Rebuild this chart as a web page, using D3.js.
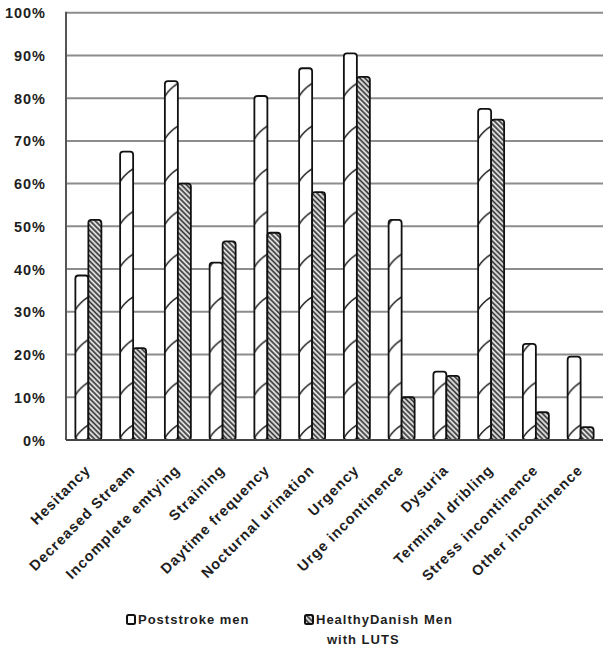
<!DOCTYPE html>
<html>
<head>
<meta charset="utf-8">
<script src="https://cdn.jsdelivr.net/npm/d3@7"></script>
<style>
  html, body { margin: 0; padding: 0; background: #fff; }
  svg text { font-family: "Liberation Sans", Arial, sans-serif; font-weight: bold; fill: #1e1e1e; letter-spacing: 1px; }
</style>
</head>
<body>
<svg id="chart" width="608" height="649"></svg>
<script>
const categories = ["Hesitancy", "Decreased Stream", "Incomplete emtying", "Straining",
  "Daytime frequency", "Nocturnal urination", "Urgency", "Urge incontinence",
  "Dysuria", "Terminal dribling", "Stress incontinence", "Other incontinence"];
const poststrokeMen = [0.385, 0.675, 0.84, 0.415, 0.805, 0.87, 0.905, 0.515, 0.16, 0.775, 0.225, 0.195];
const healthyDanishMen = [0.515, 0.215, 0.60, 0.465, 0.485, 0.58, 0.85, 0.10, 0.15, 0.75, 0.065, 0.03];
const seriesNames = ["Poststroke men", "HealthyDanish Men", "with LUTS"];
const yTicks = [0, 0.1, 0.2, 0.3, 0.4, 0.5, 0.6, 0.7, 0.8, 0.9, 1.0];

(function () {
const svg = d3.select("#chart");
const mLeft = 66, mRight = 603, mTop = 12.7, mBottom = 440;

const x = d3.scaleBand().domain(categories).range([mLeft, mRight]).paddingInner(0).paddingOuter(0);
const y = d3.scaleLinear().domain([0, 1]).range([mBottom, mTop]);
const barW = 13;

const defs = svg.append("defs");
const hp = defs.append("pattern").attr("id", "hatch").attr("patternUnits", "userSpaceOnUse")
  .attr("width", 3.6).attr("height", 3.6).attr("patternTransform", "rotate(-45)");
hp.append("rect").attr("width", 3.6).attr("height", 3.6).attr("fill", "#f2f2f2");
hp.append("line").attr("x1", 1.2).attr("y1", 0).attr("x2", 1.2).attr("y2", 3.6)
  .attr("stroke", "#333").attr("stroke-width", 1.8);

const step = x.bandwidth();
const wp = defs.append("pattern").attr("id", "sparse").attr("patternUnits", "userSpaceOnUse")
  .attr("x", x(categories[0]) + step / 2 - barW).attr("y", mBottom)
  .attr("width", step).attr("height", 42.7);
wp.append("rect").attr("width", step).attr("height", 42.7).attr("fill", "#fff");
wp.append("path").attr("d", `M0,${42.7 - 2} Q${barW * 0.3},${42.7 - 9} ${barW},${42.7 - 15}`)
  .attr("fill", "none").attr("stroke", "#1a1a1a").attr("stroke-width", 1.5);

svg.append("g").selectAll("line").data(yTicks.filter(d => d > 0)).join("line")
  .attr("x1", mLeft).attr("x2", mRight)
  .attr("y1", d => y(d)).attr("y2", d => y(d))
  .attr("stroke", "#8c8c8c").attr("stroke-width", 2);

const yAxis = d3.axisLeft(y).tickValues(yTicks).tickFormat(d3.format(".0%")).tickSize(0).tickPadding(20);
const ya = svg.append("g").attr("transform", `translate(${mLeft},0)`).call(yAxis);
ya.select(".domain").remove();
ya.attr("font-family", null).attr("font-size", null);
ya.selectAll("text").attr("font-size", 14.5).attr("dy", "0.35em");

const g = svg.append("g");
g.selectAll("rect.ps").data(categories).join("rect").attr("class", "ps")
  .attr("x", d => x(d) + step / 2 - barW)
  .attr("y", (d, i) => y(poststrokeMen[i]))
  .attr("width", barW)
  .attr("height", (d, i) => mBottom - y(poststrokeMen[i]))
  .attr("rx", 3).attr("fill", "url(#sparse)").attr("stroke", "#111").attr("stroke-width", 1.8);
g.selectAll("rect.hd").data(categories).join("rect").attr("class", "hd")
  .attr("x", d => x(d) + step / 2)
  .attr("y", (d, i) => y(healthyDanishMen[i]))
  .attr("width", barW)
  .attr("height", (d, i) => mBottom - y(healthyDanishMen[i]))
  .attr("rx", 3).attr("fill", "url(#hatch)").attr("stroke", "#111").attr("stroke-width", 1.8);

svg.append("line").attr("x1", mLeft).attr("x2", mLeft).attr("y1", mTop - 1).attr("y2", mBottom)
  .attr("stroke", "#555").attr("stroke-width", 2);
svg.append("line").attr("x1", mLeft).attr("x2", mRight).attr("y1", mBottom).attr("y2", mBottom)
  .attr("stroke", "#444").attr("stroke-width", 2);

svg.append("g").selectAll("text").data(categories).join("text")
  .attr("text-anchor", "end")
  .attr("font-size", 14.5)
  .attr("letter-spacing", 1.2)
  .attr("transform", d => `translate(${x(d) + step / 2 + 3},${mBottom + 31}) rotate(-45)`)
  .text(d => d);

const lg = svg.append("g");
lg.append("rect").attr("x", 127).attr("y", 615).attr("width", 8).attr("height", 9)
  .attr("rx", 1.5).attr("fill", "#fff").attr("stroke", "#111").attr("stroke-width", 2);
lg.append("text").attr("x", 138).attr("y", 624).attr("font-size", 13).text(seriesNames[0]);
lg.append("rect").attr("x", 305).attr("y", 615).attr("width", 8).attr("height", 9)
  .attr("rx", 1.5).attr("fill", "url(#hatch)").attr("stroke", "#111").attr("stroke-width", 2);
lg.append("text").attr("x", 316).attr("y", 624).attr("font-size", 13).text(seriesNames[1]);
lg.append("text").attr("x", 327).attr("y", 644).attr("font-size", 13).text(seriesNames[2]);
})();
</script>
</body>
</html>
